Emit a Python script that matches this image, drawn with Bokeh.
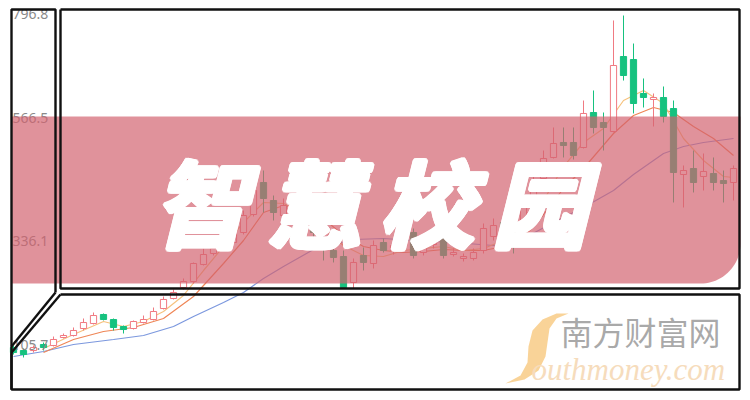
import numpy as np
from bokeh.plotting import figure
from bokeh.models import Range1d, ColumnDataSource
from bokeh.core.properties import value
from bokeh.embed import file_html
from bokeh.resources import INLINE

# ---------------- data ----------------
opens = [109.7, 103.5, 103.5, 115.9, 113.8, 130.3, 134.4, 148.8, 159.1, 177.6,
         167.3, 152.9, 148.8, 161.1, 167.3, 189.9, 210.5, 233.1, 245.5, 280.5,
         303.1, 319.5, 325.7, 346.3, 383.3, 449.1, 412.1, 381.2, 395.6, 381.2,
         366.8, 329.8, 309.2, 296.9, 243.4, 299.0, 282.5, 325.7, 309.2, 317.5,
         346.3, 305.1, 321.6, 350.4, 301.0, 292.8, 292.8, 309.2, 338.0, 366.8,
         354.5, 358.6, 412.1, 457.4, 500.6, 531.4, 531.4, 521.1, 593.1, 572.5,
         554.0, 708.3, 702.1, 632.2, 619.9, 624.0, 601.3, 465.6, 477.9, 461.5,
         467.6, 453.2, 449.1]
highs = [113.8, 107.7, 113.8, 120.0, 132.3, 138.5, 150.9, 169.4, 181.7, 179.7,
         169.4, 155.0, 165.3, 175.5, 192.0, 214.6, 229.0, 251.7, 284.6, 313.4,
         323.6, 331.9, 354.5, 391.5, 457.4, 473.8, 422.4, 416.2, 412.1, 391.5,
         381.2, 346.3, 319.5, 309.2, 292.8, 315.4, 329.8, 333.9, 329.8, 346.3,
         354.5, 333.9, 350.4, 358.6, 313.4, 303.1, 313.4, 364.8, 375.1, 381.2,
         371.0, 422.4, 469.7, 514.9, 562.3, 562.3, 562.3, 617.8, 638.4, 593.1,
         782.4, 792.6, 735.0, 663.1, 632.2, 646.6, 617.8, 484.1, 514.9, 508.8,
         500.6, 473.8, 484.1]
lows = [95.3, 89.2, 99.4, 103.5, 111.8, 128.2, 132.3, 144.7, 157.0, 165.3,
        144.7, 138.5, 146.7, 159.1, 165.3, 187.9, 208.5, 229.0, 241.4, 278.4,
        299.0, 315.4, 321.6, 342.2, 379.2, 387.4, 371.0, 366.8, 354.5, 340.1,
        333.9, 288.7, 284.6, 231.1, 231.1, 268.1, 272.2, 305.1, 301.0, 309.2,
        292.8, 299.0, 313.4, 292.8, 296.9, 286.6, 288.7, 303.1, 329.8, 333.9,
        303.1, 350.4, 401.8, 449.1, 498.5, 500.6, 496.4, 519.1, 549.9, 514.9,
        552.0, 658.9, 591.1, 603.4, 564.3, 572.5, 408.0, 397.7, 428.6, 432.7,
        432.7, 408.0, 412.1]
closes = [99.4, 95.3, 109.7, 109.7, 126.2, 134.4, 144.7, 161.1, 175.5, 167.3,
          150.9, 146.7, 163.2, 167.3, 183.8, 208.5, 222.9, 245.5, 282.5, 301.0,
          313.4, 325.7, 346.3, 381.2, 432.7, 416.2, 387.4, 401.8, 366.8, 354.5,
          346.3, 313.4, 294.9, 233.1, 284.6, 284.6, 319.5, 309.2, 319.5, 333.9,
          299.0, 323.6, 338.0, 299.0, 305.1, 296.9, 305.1, 354.5, 360.7, 346.3,
          325.7, 412.1, 453.2, 498.5, 529.3, 525.2, 504.7, 591.1, 562.3, 562.3,
          689.8, 669.2, 611.6, 624.0, 624.0, 584.9, 469.7, 473.8, 449.1, 471.8,
          449.1, 447.1, 477.9]

ma5_idx = [3, 6, 9, 11, 13, 15, 17, 19, 21, 23, 25, 27, 29, 31, 33, 35, 37, 39, 41, 43,
           45, 47, 49, 51, 53, 55, 57, 59, 61, 63, 65, 67, 69, 71, 72]
ma5_val = [107.7, 136.5, 163.2, 152.9, 163.2, 183.8, 216.7, 268.1, 317.5, 366.8,
           408.0, 405.9, 387.4, 354.5, 319.5, 299.0, 296.9, 309.2, 313.4, 317.5,
           309.2, 313.4, 329.8, 354.5, 412.1, 482.0, 531.4, 560.2, 617.8, 638.4,
           611.6, 539.6, 494.4, 461.5, 459.4]
ma10_idx = [3, 6, 9, 12, 15, 18, 21, 23, 25, 27, 29, 31, 33, 35, 37, 39, 41, 43, 45, 47,
            49, 51, 53, 55, 57, 60, 62, 64, 66, 68, 70, 72]
ma10_val = [99.4, 126.2, 142.6, 150.9, 169.4, 214.6, 282.5, 329.8, 387.4, 401.8,
            395.6, 375.1, 340.1, 317.5, 309.2, 305.1, 307.2, 311.3, 309.2, 309.2,
            317.5, 336.0, 383.3, 436.8, 477.9, 549.9, 586.9, 603.4, 593.1, 564.3,
            539.6, 504.7]
ma30_idx = [0, 3, 6, 10, 13, 16, 18, 21, 23, 25, 27, 30, 34, 37, 40, 44, 48, 51, 54, 57,
            60, 62, 65, 67, 69, 72]
ma30_val = [91.2, 101.5, 115.9, 126.2, 134.4, 152.9, 173.5, 202.3, 222.9, 251.7,
            276.3, 311.3, 331.9, 333.9, 329.8, 325.7, 319.5, 333.9, 366.8, 397.7,
            432.7, 465.6, 508.8, 523.2, 531.4, 539.6]

tick_values = [796.8, 566.5, 336.1, 105.7]
tick_labels = ["796.8", "566.5", "336.1", "105.7"]
title_chars = ["智", "慧", "校", "园"]
brand_cn = "南方财富网"
brand_en = "outhmoney.com"

# ---------------- styles ----------------
UP = "#f07a82"
DOWN = "#16c27f"
FRAME = "#111111"

p = figure(width=750, height=400, x_range=Range1d(-1.3, 73.7), y_range=Range1d(0.7, 823.5),
           output_backend="svg", toolbar_location=None, min_border=0,
           x_axis_location=None, y_axis_location=None)
p.grid.visible = False
p.outline_line_color = None
p.background_fill_color = "white"
p.border_fill_color = "white"
p.extra_x_ranges = {"px": Range1d(0, 750)}
p.extra_y_ranges = {"py": Range1d(400, 0)}

# moving-average lines
p.line(ma30_idx, ma30_val, line_color="#7c98de", line_width=1.2)
p.line(ma10_idx, ma10_val, line_color="#ef8656", line_width=1.2)
p.line(ma5_idx, ma5_val, line_color="#f6c27e", line_width=1.2)

# candles
idx = list(range(len(opens)))
is_up = [c >= o for o, c in zip(opens, closes)]
csrc = ColumnDataSource(dict(
    x=idx, h=highs, l=lows,
    top=[max(o, c) for o, c in zip(opens, closes)],
    bot=[min(o, c) for o, c in zip(opens, closes)],
    lc=[UP if u else DOWN for u in is_up],
    fc=["white" if u else DOWN for u in is_up],
))
p.segment(x0="x", y0="h", x1="x", y1="l", line_color="lc", line_width=1, source=csrc)
p.vbar(x="x", width=0.62, top="top", bottom="bot", fill_color="fc", line_color="lc",
       line_width=1, source=csrc)

# price labels
tsrc = ColumnDataSource(dict(x=[12] * 4, y=tick_values, t=tick_labels, dy=[1, -7, 4, -4]))
p.text(x="x", y="y", text="t", y_offset="dy", source=tsrc, x_range_name="px",
       text_font=value("Noto Sans"), text_font_size="14px", text_color="#8a8a8a",
       text_align="left", text_baseline="middle")

# translucent red band with rounded bottom-right corner
t = np.linspace(0, np.pi / 2, 24)
band_x = [11, 740, 740] + list(700 + 40 * np.cos(t)) + [11]
band_y = [116, 116, 243] + list(243 + 40 * np.sin(t)) + [283]
p.patch(band_x, band_y, x_range_name="px", y_range_name="py",
        fill_color=(210, 97, 110), fill_alpha=0.69, line_color=None)

# frames
fx = [[55, 55, 11, 11], [55, 11], [60, 739, 739, 60, 60], [60, 739, 739, 11, 11], [60, 11]]
fy = [[292, 9, 9, 389], [292, 346], [9, 9, 288, 288, 9], [294, 294, 389, 389, 352], [294, 352]]
p.multi_line(fx, fy, x_range_name="px", y_range_name="py", line_color=FRAME, line_width=2.4)

# big title (drawn several times with tiny offsets to make the strokes heavier)
ang = np.linspace(0, 2 * np.pi, 12, endpoint=False)
offsets = [(0.0, 0.0)] + [(2.4 * np.cos(a), 2.4 * np.sin(a)) for a in ang] + \
          [(1.2 * np.cos(a), 1.2 * np.sin(a)) for a in ang[::2]]
for dx, dy in offsets:
    p.text(x=[200 + 113 * i for i in range(4)], y=[199] * 4, text=title_chars,
           x_offset=float(dx), y_offset=float(dy), x_range_name="px", y_range_name="py",
           text_font=value("Noto Sans CJK SC"), text_font_style="bold italic",
           text_font_size="95px", text_color="white", text_align="center",
           text_baseline="middle")

# watermark
sx = [568, 556, 549, 547, 545, 538, 524, 505, 520, 527, 528, 532, 542, 556]
sy = [313, 318, 328, 342, 356, 370, 379, 383, 375, 362, 346, 330, 319, 313]
p.patch(sx, sy, x_range_name="px", y_range_name="py", fill_color="#f8cb86",
        fill_alpha=0.85, line_color=None)
p.text(x=[640], y=[330], text=[brand_cn], x_range_name="px", y_range_name="py",
       text_font=value("Noto Sans CJK SC"), text_font_size="32px", text_color="#9a9a9a",
       text_alpha=0.85, text_align="center", text_baseline="middle")
p.text(x=[531], y=[369], text=[brand_en], x_range_name="px", y_range_name="py",
       text_font=value("Liberation Serif"), text_font_style="italic", text_font_size="31px",
       text_color="#f6dcbc", text_align="left", text_baseline="alphabetic")

open("out.html", "w").write(file_html(p, INLINE))
